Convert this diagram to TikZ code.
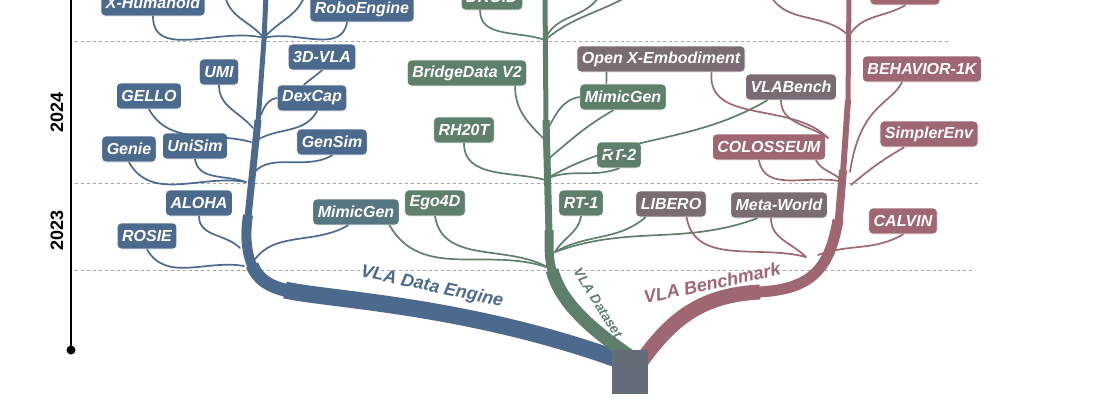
\documentclass[tikz,border=0pt]{standalone}
\usepackage{fontspec}
\setmainfont{Liberation Sans}
\definecolor{engineC}{HTML}{4B6A8D}
\definecolor{datasetC}{HTML}{5E806B}
\definecolor{benchC}{HTML}{9E6771}
\definecolor{mixC}{HTML}{7A6B75}
\definecolor{tealC}{HTML}{557782}
\definecolor{rootC}{HTML}{646E78}
\begin{document}
\begin{tikzpicture}[x=1pt, y=-1pt, line cap=round,
    tag/.style={rounded corners=4pt, text=white, draw=white, line width=0.8pt,
      font=\bfseries\itshape\fontsize{16}{16}\selectfont, inner xsep=5pt, minimum height=26pt},
    twig/.style={line width=1.7pt},
    trunk/.style={line cap=butt},
    year/.style={font=\bfseries\fontsize{18}{18}\selectfont, rotate=90},
    branchname/.style={font=\bfseries\itshape\fontsize{18}{18}\selectfont}]
    \useasboundingbox (0,0) rectangle (1104,405);
    \clip (0,0) rectangle (1104,405);

    % Time axis and year grid
    \draw[line width=1.6pt] (71,-5) -- (71,350);
    \fill (71,350) circle[radius=4.5pt];
    \draw[gray!70, dashed] (75,41) -- (948,41);
    \draw[gray!70, dashed] (75,183) -- (980,183);
    \draw[gray!70, dashed] (75,270) -- (975,270);
    \node[year] (y24) at (57,112) {2024};
    \node[year] (y23) at (57,230) {2023};

    % Trunks
    \draw[engineC, trunk, line width=17pt] (625,362) .. controls (470,305) and (330,300) .. (285,290);
    \draw[engineC, trunk, line width=13pt] (289,291) .. controls (270,287) and (258,280) .. (252,265);
    \draw[engineC, trunk, line width=10pt] (253,268) .. controls (246,252) and (245,235) .. (248,215);
    \draw[engineC, trunk, line width=7pt] (248,217) -- (258,120);
    \draw[engineC, trunk, line width=5pt] (258,122) -- (264,40) -- (266,-5);
    \draw[datasetC, trunk, line width=13pt] (630,356) .. controls (585,325) and (560,300) .. (552,270);
    \draw[datasetC, trunk, line width=9pt] (553,274) .. controls (549,260) and (549,255) .. (549,230);
    \draw[datasetC, trunk, line width=7pt] (549,233) -- (546,120);
    \draw[datasetC, trunk, line width=5pt] (546,122) -- (545,-5);
    \draw[benchC, trunk, line width=15pt] (638,366) .. controls (670,320) and (700,295) .. (760,292);
    \draw[benchC, trunk, line width=11pt] (757,292) .. controls (815,290) and (830,265) .. (838,220);
    \draw[benchC, trunk, line width=8pt] (838.5,224) -- (843,170);
    \draw[benchC, trunk, line width=6pt] (843,173) -- (848,100);
    \draw[benchC, trunk, line width=5pt] (848,102) -- (849,-5);
    \node[fill=rootC, minimum width=36pt, minimum height=44pt, inner sep=0pt] (root) at (630,372) {};

    % Trunk names
    \node[branchname, text=engineC, rotate=-12] (engine) at (432,287) {VLA Data Engine};
    \node[branchname, text=datasetC, rotate=-58, font=\bfseries\itshape\fontsize{13.5}{13.5}\selectfont] (dataset) at (598,303) {VLA Dataset};
    \node[branchname, text=benchC, rotate=12] (bench) at (712,283) {VLA Benchmark};

    % Free ends on the trunks
    \coordinate (e1) at (264,38);  \coordinate (e2) at (261,115); \coordinate (e3) at (257,140);
    \coordinate (e4) at (253,128); \coordinate (e5) at (251,142); \coordinate (e6) at (246,182);
    \coordinate (e7) at (250,178); \coordinate (e8) at (240,248); \coordinate (e9) at (244,266);
    \coordinate (e10) at (251,265);
    \coordinate (d1) at (545,40);  \coordinate (d2) at (545,140); \coordinate (d3) at (546,180);
    \coordinate (d4) at (549,268); \coordinate (d5) at (547,130); \coordinate (d6) at (547,160);
    \coordinate (d7) at (548,178); \coordinate (d8) at (555,252);
    \coordinate (p1) at (849,36);  \coordinate (p2) at (850,172); \coordinate (p3) at (851,185);
    \coordinate (p4) at (843,182); \coordinate (p5) at (828,138); \coordinate (p6) at (806,257);
    \coordinate (p7) at (818,255);
    \coordinate (ta) at (225,-5); \coordinate (tb) at (305,-5); \coordinate (tc) at (600,-5);
    \coordinate (td) at (630,-5); \coordinate (te) at (770,-5);

    % VLA Data Engine
    \draw[engineC, twig] (ta) to[out=-80, in=130] (e1);
    \draw[engineC, twig] (tb) to[out=-110, in=50] (e1);
    \node[tag, fill=engineC] (xhum) at (153,3) {X-Humanoid};
    \node[tag, fill=engineC] (robo) at (362,9) {RoboEngine};
    \node[tag, fill=engineC] (vla3d) at (322,57) {3D-VLA};
    \node[tag, fill=engineC] (umi) at (219,72) {UMI};
    \node[tag, fill=engineC] (gello) at (149,96) {GELLO};
    \node[tag, fill=engineC] (dexcap) at (312,98) {DexCap};
    \node[tag, fill=engineC] (genie) at (129,149) {Genie};
    \node[tag, fill=engineC] (unisim) at (195,146) {UniSim};
    \node[tag, fill=engineC] (gensim) at (332,142) {GenSim};
    \node[tag, fill=engineC] (aloha) at (199,203) {ALOHA};
    \node[tag, fill=engineC] (rosie) at (147,236) {ROSIE};
    \node[tag, fill=tealC] (mimicL) at (356,212) {MimicGen};

    \draw[engineC, twig] (xhum.south) to[out=-90, in=165] (e1);
    \draw[engineC, twig] ([xshift=-15pt]robo.south) to[out=-100, in=15] (e1);
    \draw[engineC, twig] (vla3d.south) -- ([xshift=-8pt]dexcap.north);
    \draw[engineC, twig] (dexcap.west) to[out=-170, in=70] (e2);
    \draw[engineC, twig] ([xshift=5pt]dexcap.south) to[out=-120, in=30] (e3);
    \draw[engineC, twig] (umi.south) to[out=-90, in=130] (e4);
    \draw[engineC, twig] (gello.south) to[out=-60, in=165] (e5);
    \draw[engineC, twig] (genie.south) to[out=-60, in=170] (e6);
    \draw[engineC, twig] (unisim.south) to[out=-80, in=160] (e6);
    \draw[engineC, twig] (gensim.south) to[out=-150, in=60] (e7);
    \draw[engineC, twig] (aloha.south) to[out=-90, in=135] (e8);
    \draw[engineC, twig] (rosie.south) to[out=-60, in=170] (e9);
    \draw[engineC, twig] ([xshift=-8pt]mimicL.south) to[out=-150, in=60] (e10);
    \draw[datasetC, twig] ([xshift=-10pt]mimicL.south east) to[out=-60, in=160] (d4);

    % VLA Dataset
    \draw[datasetC, twig] (tc) to[out=-120, in=70] (d1);
    \draw[datasetC, twig] (td) to[out=-150, in=40] (d1);
    \node[tag, fill=datasetC] (droid) at (492,-3) {DROID};
    \node[tag, fill=datasetC] (bridge) at (467,73) {BridgeData V2};
    \node[tag, fill=datasetC] (rh20t) at (464,130) {RH20T};
    \node[tag, fill=datasetC] (ego) at (435,203) {Ego4D};
    \node[tag, fill=datasetC] (mimicG) at (623,97) {MimicGen};
    \node[tag, fill=datasetC] (rt2) at (619,155) {RT-2};
    \node[tag, fill=datasetC] (rt1) at (581,203) {RT-1};
    \node[tag, fill=mixC] (openx) at (661,59) {Open X-Embodiment};
    \node[tag, fill=mixC] (libero) at (671,204) {LIBERO};
    \node[tag, fill=mixC] (meta) at (779,205) {Meta-World};
    \node[tag, fill=mixC] (vlab) at (791,87) {VLABench};

    \draw[datasetC, twig] ([xshift=-12pt]droid.south) to[out=-90, in=160] (d1);
    \draw[datasetC, twig] ([xshift=-12pt]bridge.south east) to[out=-90, in=135] (d2);
    \draw[datasetC, twig] (rh20t.south) to[out=-90, in=165] (d3);
    \draw[datasetC, twig] (ego.south) to[out=-80, in=150] (d4);
    \draw[datasetC, twig] (mimicG.west) to[out=-170, in=60] (d5);
    \draw[datasetC, twig] ([xshift=-10pt]mimicG.south) to[out=-150, in=40] (d6);
    \draw[datasetC, twig] ([xshift=30pt]openx.south west) -- ([xshift=27pt]mimicG.north west);
    \draw[datasetC, twig] (rt2.south) to[out=-160, in=20] (d7);
    \draw[datasetC, twig] ([xshift=22pt]vlab.south west) to[out=-150, in=30] (d7);
    \draw[datasetC, twig] (rt1.south) to[out=-100, in=60] (d8);
    \draw[datasetC, twig] ([xshift=10pt]libero.south west) to[out=-140, in=30] (d8);
    \draw[datasetC, twig] ([xshift=-22pt]meta.south) to[out=-160, in=20] (d8);

    % VLA Benchmark
    \draw[benchC, twig] (te) to[out=-60, in=135] (p1);
    \node[tag, fill=benchC, minimum width=70pt] (topbox) at (905,-8) {};
    \node[tag, fill=benchC] (behav) at (922,69) {BEHAVIOR-1K};
    \node[tag, fill=benchC] (simpler) at (929,134) {SimplerEnv};
    \node[tag, fill=benchC] (colos) at (769,147) {COLOSSEUM};
    \node[tag, fill=benchC] (calvin) at (903,221) {CALVIN};

    \draw[benchC, twig] (topbox.south) to[out=-150, in=60] (p1);
    \draw[benchC, twig] ([xshift=-20pt]behav.south) .. controls (890,105) and (860,105) .. (p2);
    \draw[benchC, twig] ([xshift=-25pt]simpler.south) to[out=-150, in=40] (p3);
    \draw[benchC, twig] ([xshift=-10pt]colos.south) to[out=-80, in=165] (p4);
    \draw[benchC, twig] ([xshift=-10pt]colos.south east) to[out=-60, in=130] (p4);
    \draw[benchC, twig] ([xshift=-34pt]openx.south east) to[out=-95, in=135] (p5);
    \draw[benchC, twig] ([xshift=-10pt]vlab.south) to[out=-90, in=145] (p5);
    \draw[benchC, twig] ([xshift=-20pt]libero.south east) to[out=-80, in=165] (p6);
    \draw[benchC, twig] ([xshift=-8pt]meta.south) to[out=-90, in=135] (p6);
    \draw[benchC, twig] (calvin.south) to[out=-150, in=20] (p7);
\end{tikzpicture}
\end{document}
